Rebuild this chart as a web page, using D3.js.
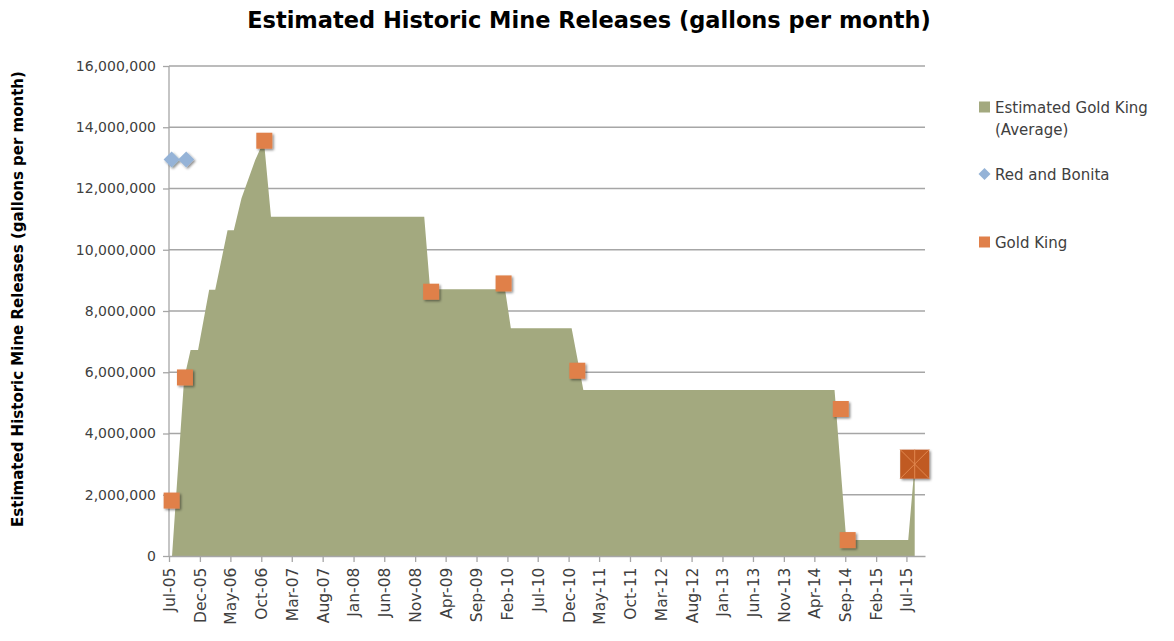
<!DOCTYPE html>
<html>
<head>
<meta charset="utf-8">
<script src="https://cdn.jsdelivr.net/npm/d3@7"></script>
<style>
  body { margin: 0; background: #fff; }
  svg { display: block; font-family: "DejaVu Sans", sans-serif; }
</style>
</head>
<body>
<svg id="chart" width="1174" height="641"></svg>
<script>
(function () {
    'use strict';

    // Estimated Gold King (Average) - area outline
    var areaDates = ['2005-07-16', '2005-09-14', '2005-10-16', '2005-11-22', '2006-01-16', '2006-02-15',
        '2006-04-17', '2006-05-18', '2006-06-25', '2006-09-01', '2006-10-14', '2006-11-18',
        '2008-12-16', '2009-01-14', '2010-01-20', '2010-02-18', '2010-12-16', '2011-02-12',
        '2014-07-10', '2014-09-06', '2015-07-10', '2015-08-11'];
    var areaValues = [0, 5800000, 6730000, 6730000, 8690000, 8690000,
        10640000, 10640000, 11680000, 12930000, 13560000, 11080000,
        11080000, 8710000, 8710000, 7440000, 7440000, 5420000,
        5420000, 520000, 520000, 3000000];

    // Red and Bonita
    var rbDates = ['2005-07-14', '2005-09-24'];
    var rbValues = [12950000, 12950000];

    // Gold King measurements
    var gkDates = ['2005-07-14', '2005-09-18', '2006-10-16', '2009-01-19', '2010-01-13',
        '2011-01-13', '2014-08-10', '2014-09-13'];
    var gkValues = [1810000, 5830000, 13560000, 8630000, 8900000, 6050000, 4800000, 520000];

    // Gold King spill (highlighted point)
    var spillDates = ['2015-08-11'];
    var spillValues = [3000000];

    var yTicks = [0, 2000000, 4000000, 6000000, 8000000, 10000000, 12000000, 14000000, 16000000];
    var legendLabels = [['Estimated Gold King', '(Average)'], ['Red and Bonita'], ['Gold King']];

    var parse = d3.timeParse('%Y-%m-%d');
    function zip(dates, values) {
        return dates.map(function (d, i) { return {date: parse(d), value: values[i]}; });
    }
    var areaData = zip(areaDates, areaValues),
        rbData = zip(rbDates, rbValues),
        gkData = zip(gkDates, gkValues),
        spillData = zip(spillDates, spillValues);

    var left = 169, right = 925, top = 66, bottom = 556;
    var areaColor = '#A3A97F', gkColor = '#E0804A', rbColor = '#95B3D7', gridColor = '#A6A6A6', textColor = '#404040';

    var x = d3.scaleTime()
        .domain([new Date(2005, 6, 1), new Date(2015, 9, 1)])
        .range([left, right]);
    var y = d3.scaleLinear()
        .domain([0, 16000000])
        .range([bottom, top]);

    var svg = d3.select('#chart');

    var defs = svg.append('defs');
    var shadow = defs.append('filter').attr('id', 'shadow')
        .attr('x', '-50%').attr('y', '-50%').attr('width', '200%').attr('height', '200%');
    shadow.append('feDropShadow')
        .attr('dx', 1.5).attr('dy', 1.5).attr('stdDeviation', 1.2)
        .attr('flood-color', '#000').attr('flood-opacity', 0.45);

    // title
    svg.append('text')
        .attr('x', 589).attr('y', 28)
        .attr('text-anchor', 'middle')
        .attr('font-size', 22.5).attr('font-weight', 'bold')
        .attr('fill', '#000')
        .text('Estimated Historic Mine Releases (gallons per month)');

    // y axis title
    svg.append('text')
        .attr('transform', 'translate(23,299) rotate(-90)')
        .attr('text-anchor', 'middle')
        .attr('font-size', 15).attr('font-weight', 'bold')
        .attr('fill', '#000')
        .text('Estimated Historic Mine Releases (gallons per month)');

    // gridlines
    svg.append('g').selectAll('line').data(yTicks.slice(1)).enter().append('line')
        .attr('x1', left).attr('x2', right)
        .attr('y1', function (d) { return y(d); })
        .attr('y2', function (d) { return y(d); })
        .attr('stroke', gridColor).attr('stroke-width', 1.3);

    // area
    var area = d3.area()
        .x(function (d) { return x(d.date); })
        .y0(y(0))
        .y1(function (d) { return y(d.value); });
    svg.append('path')
        .datum(areaData)
        .attr('d', area)
        .attr('fill', areaColor);

    // axes
    var yAxis = svg.append('g')
        .attr('transform', 'translate(' + left + ',0)')
        .call(d3.axisLeft(y).tickValues(yTicks).tickSize(6).tickPadding(7).tickFormat(d3.format(',')));
    var xTickValues = d3.range(25).map(function (i) { return new Date(2005, 6 + 5 * i, 1); });
    var xAxis = svg.append('g')
        .attr('transform', 'translate(0,' + bottom + ')')
        .call(d3.axisBottom(x).tickValues(xTickValues).tickSize(6).tickSizeOuter(0).tickFormat(d3.timeFormat('%b-%y')));

    [yAxis, xAxis].forEach(function (g) {
        g.select('.domain').attr('stroke', gridColor).attr('stroke-width', 1.3);
        g.selectAll('.tick line').attr('stroke', gridColor).attr('stroke-width', 1.3);
        g.selectAll('text').attr('fill', textColor).attr('font-size', 14)
            .attr('font-family', '"DejaVu Sans", sans-serif');
    });
    yAxis.select('.domain').attr('d', 'M0,' + bottom + 'V' + top);
    xAxis.selectAll('.tick text')
        .attr('font-size', 15.5)
        .attr('transform', 'rotate(-90)')
        .attr('text-anchor', 'end')
        .attr('dx', '-0.75em').attr('dy', '0.35em')
        .attr('x', 0).attr('y', 0);

    // Red and Bonita diamonds
    var dSize = 8;
    svg.append('g').selectAll('path').data(rbData).enter().append('path')
        .attr('d', 'M0,' + -dSize + 'L' + dSize + ',0L0,' + dSize + 'L' + -dSize + ',0Z')
        .attr('transform', function (d) { return 'translate(' + x(d.date) + ',' + y(d.value) + ')'; })
        .attr('fill', rbColor)
        .attr('filter', 'url(#shadow)');

    // Gold King squares
    var sq = 16;
    svg.append('g').selectAll('rect').data(gkData).enter().append('rect')
        .attr('x', function (d) { return x(d.date) - sq / 2; })
        .attr('y', function (d) { return y(d.value) - sq / 2; })
        .attr('width', sq).attr('height', sq)
        .attr('fill', gkColor)
        .attr('filter', 'url(#shadow)');

    // Gold King spill marker
    var big = 29;
    var spill = svg.append('g').selectAll('g').data(spillData).enter().append('g')
        .attr('transform', function (d) { return 'translate(' + x(d.date) + ',' + y(d.value) + ')'; });
    spill.append('rect')
        .attr('x', -big / 2).attr('y', -big / 2)
        .attr('width', big).attr('height', big)
        .attr('fill', '#C05A24')
        .attr('filter', 'url(#shadow)');
    spill.append('path')
        .attr('d', 'M' + -big / 2 + ',' + -big / 2 + 'L' + big / 2 + ',' + big / 2 +
            'M' + big / 2 + ',' + -big / 2 + 'L' + -big / 2 + ',' + big / 2 +
            'M0,' + -big / 2 + 'V' + big / 2)
        .attr('stroke', '#E0874F').attr('stroke-width', 1).attr('fill', 'none');

    // legend
    var legend = svg.append('g').attr('font-size', 15).attr('fill', textColor);
    var legendY = [107, 174, 242];
    legend.append('rect').attr('x', 979).attr('y', legendY[0] - 5.5).attr('width', 11).attr('height', 11).attr('fill', areaColor);
    legend.append('path')
        .attr('d', 'M0,-6L6,0L0,6L-6,0Z')
        .attr('transform', 'translate(984.5,' + legendY[1] + ')')
        .attr('fill', rbColor);
    legend.append('rect').attr('x', 979).attr('y', legendY[2] - 5.5).attr('width', 11).attr('height', 11).attr('fill', gkColor);

    legendLabels.forEach(function (lines, i) {
        var t = legend.append('text').attr('x', 995).attr('y', legendY[i] + 5.5).attr('fill', textColor);
        lines.forEach(function (line, j) {
            t.append('tspan').attr('x', 995).attr('dy', j ? 22 : 0).text(line);
        });
    });
}());
</script>
</body>
</html>
